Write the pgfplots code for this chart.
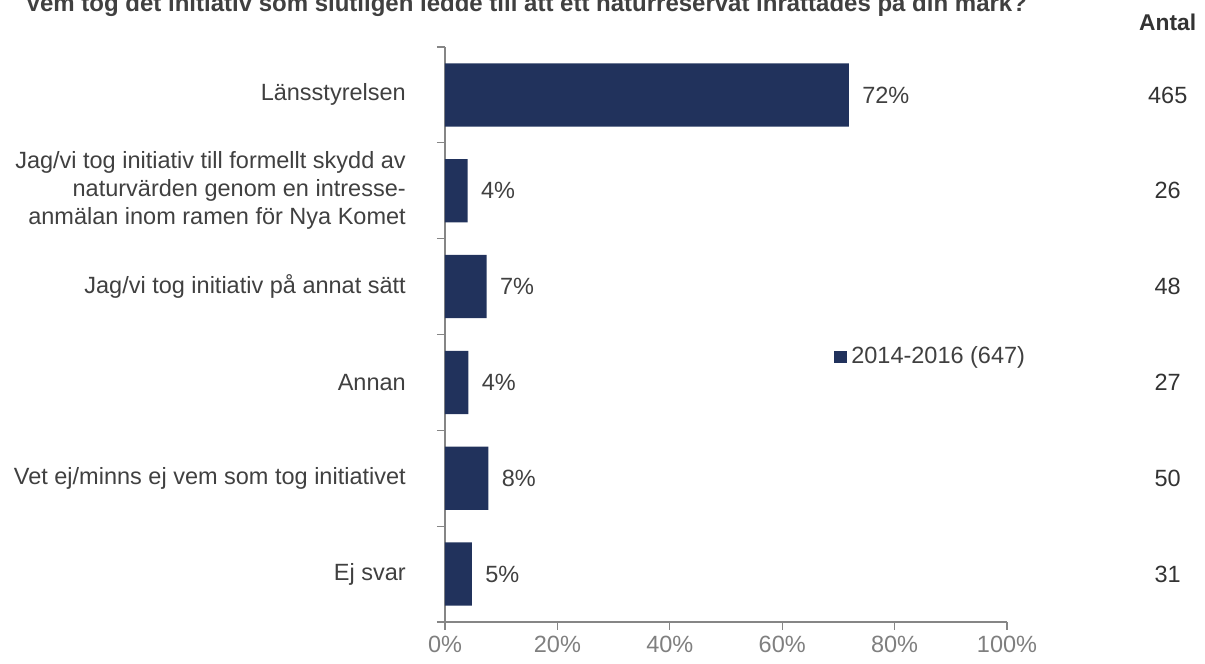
\documentclass[border=0pt]{standalone}
\usepackage{pgfplots}
\pgfplotsset{compat=1.18}
\usepackage{pgfplotstable}
\usepackage{fontspec}
\setmainfont{Liberation Sans}

\definecolor{navy}{RGB}{33,50,92}
\definecolor{axgray}{RGB}{134,134,134}
\definecolor{tickgray}{RGB}{127,127,127}
\definecolor{txt}{RGB}{64,64,64}

% pos: 1 = bottom row; val = share in %; n = Antal
\pgfplotstableread{
pos val   lab ax    n
6   71.87 72  128.6 465
5   4.02  4   128.6 26
4   7.42  7   128.6 48
3   4.17  4   128.6 27
2   7.73  8   128.6 50
1   4.79  5   128.6 31
}\data

\begin{document}
\fontsize{11.75}{14}\selectfont
\begin{tikzpicture}
\path[use as bounding box, clip] (0,0) rectangle (602.5pt,332pt);
\node[anchor=base west, inner sep=0, text=txt,
      font=\fontsize{12}{14}\selectfont\bfseries] at (12.5pt,326pt)
  {Vem tog det initiativ som slutligen ledde till att ett naturreservat inrättades på din mark?};
\begin{axis}[
    at={(222.5pt,21pt)}, anchor=south west,
    scale only axis, width=281pt, height=287.5pt,
    xmin=0, xmax=100, ymin=0.5, ymax=6.5,
    axis x line*=bottom, axis y line*=left,
    axis line style={axgray, line width=0.6pt},
    tick align=outside,
    major tick length=0pt, minor tick length=4pt,
    tick style={axgray, line width=0.6pt},
    xtick={0,20,...,100}, minor xtick={0,20,...,100},
    xticklabels={0\%,20\%,40\%,60\%,80\%,100\%},
    ytick={1,...,6}, minor ytick={0.5,1.5,...,6.5},
    yticklabels={
        {Ej svar},
        {Vet ej/minns ej vem som tog initiativet},
        {Annan},
        {Jag/vi tog initiativ på annat sätt},
        {Jag/vi tog initiativ till formellt skydd av\\naturvärden genom en intresse-\\anmälan inom ramen för Nya Komet},
        {Länsstyrelsen}},
    xticklabel style={text=tickgray, yshift=-3pt},
    yticklabel style={align=right, text=txt, xshift=-15.5pt},
    /pgf/number format/assume math mode=true,
    clip=false,
    legend style={at={(rel axis cs:0.692,0.461)}, anchor=west,
        draw=none, fill=none, inner sep=0pt, text=txt,
        font=\fontsize{11.75}{14}\selectfont},
    legend cell align=left,
]
\addplot[xbar, bar shift=0pt, bar width=0.66, fill=navy, draw=none,
    nodes near coords={\pgfplotspointmeta\%},
    point meta=explicit symbolic,
    nodes near coords style={anchor=west, xshift=2.6pt, text=txt},
    legend image code/.code={\fill[navy] (0pt,-3pt) rectangle (6.5pt,3pt);}]
    table[x=val, y=pos, meta=lab] {\data};
\addlegendentry{2014-2016 (647)}
\addplot[draw=none, forget plot,
    nodes near coords, point meta=explicit symbolic,
    nodes near coords style={anchor=center, text=txt!80!black}]
    table[x=ax, y=pos, meta=n] {\data};
\node[anchor=base, text=txt!80!black, font=\fontsize{11.4}{13}\selectfont\bfseries]
    at (axis cs:128.6,6.5) [yshift=8.5pt] {Antal};
\end{axis}
\end{tikzpicture}
\end{document}
